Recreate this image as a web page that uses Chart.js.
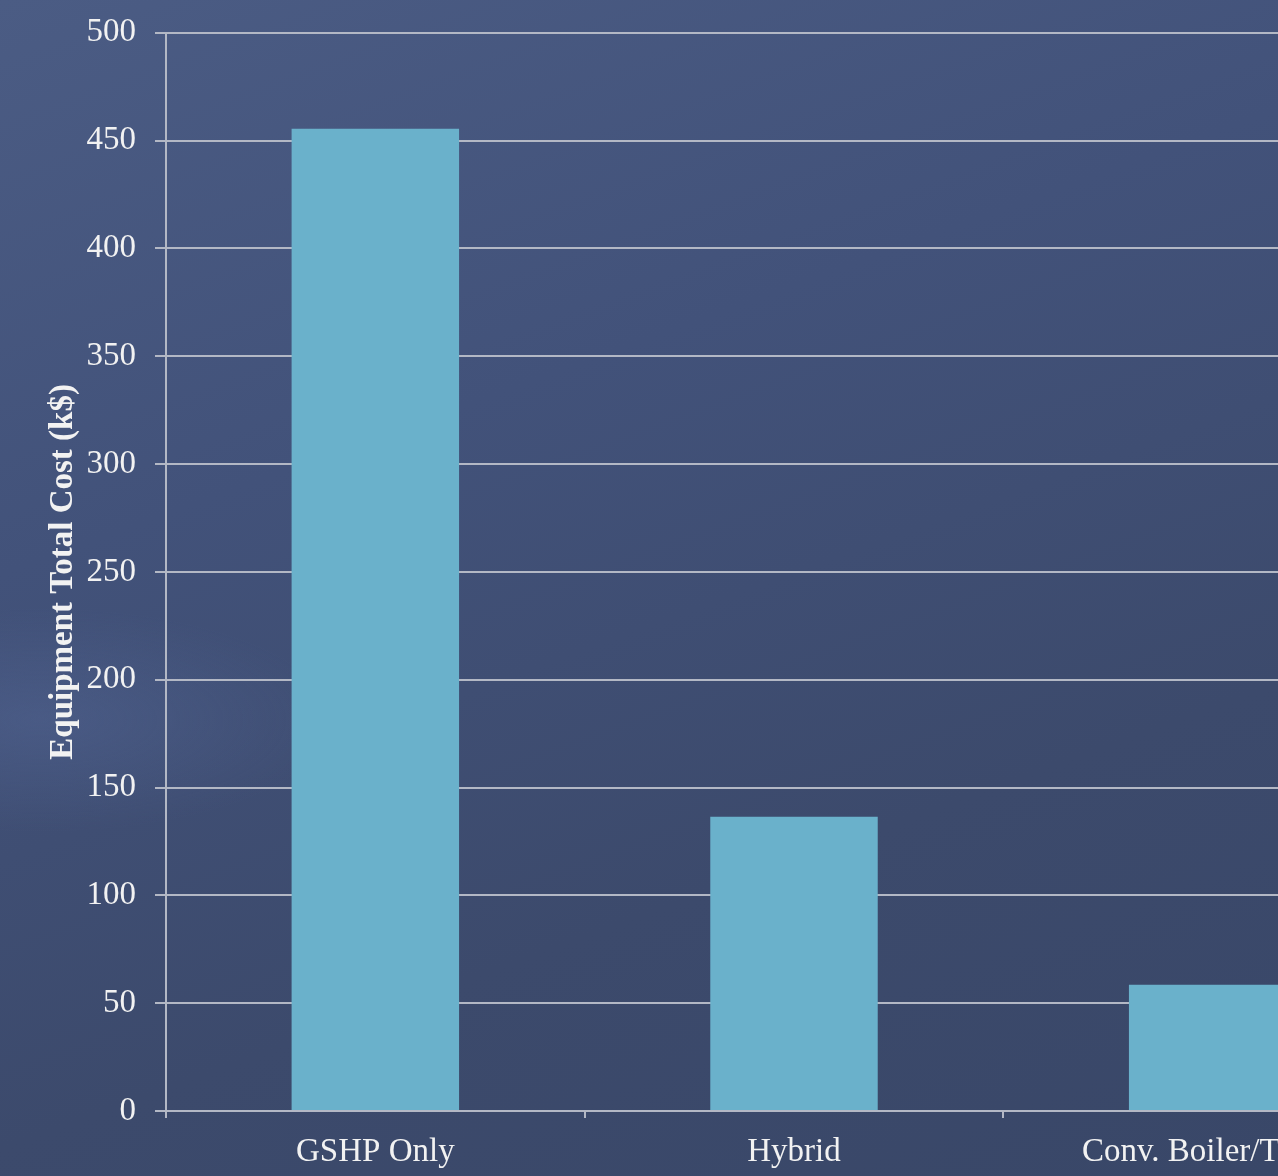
<!DOCTYPE html>
<html>
<head>
<meta charset="utf-8">
<script src="https://cdn.jsdelivr.net/npm/chart.js@4/dist/chart.umd.min.js"></script>
<style>
  html, body { margin: 0; padding: 0; overflow: hidden; }
  body {
    width: 1278px; height: 1176px;
    background:
      radial-gradient(ellipse 420px 160px at 40px 720px, rgba(90,110,160,0.35), rgba(90,110,160,0) 70%),
      linear-gradient(160deg, #4b5c84 0%, #42527a 35%, #3c4a6c 70%, #394768 100%);
  }
  #wrap { position: absolute; left: 0; top: -6px; width: 1422px; height: 1182px; }
</style>
</head>
<body>
<div id="wrap"><canvas id="myChart" width="1422" height="1182"></canvas></div>
<script>
var categories = ['GSHP Only', 'Hybrid', 'Conv. Boiler/Tower'];
var costValues = [455.5, 136.5, 58.5];
var yTicks = [0, 50, 100, 150, 200, 250, 300, 350, 400, 450, 500];

var gridColor = '#b3b8c5';
var textColor = '#f2f2f2';
var font = 'Liberation Serif';

const data = {
    labels: categories,
    datasets: [{
        label: 'Equipment Total Cost (k$)',
        backgroundColor: '#6ab1cb',
        borderWidth: 0,
        data: costValues,
        barPercentage: 0.4,
        categoryPercentage: 1.0
    }]
};

const config = {
    type: 'bar',
    data: data,
    options: {
        responsive: false,
        animation: false,
        layout: { padding: { left: 0, right: 0, top: 26, bottom: 0 } },
        plugins: {
            legend: { display: false },
            tooltip: { enabled: false }
        },
        scales: {
            x: {
                afterFit: function (scale) { scale.height = 65; },
                grid: {
                    offset: true,
                    drawOnChartArea: false,
                    drawTicks: true,
                    tickLength: 7,
                    color: gridColor,
                    lineWidth: 2
                },
                border: { display: false },
                ticks: {
                    color: textColor,
                    font: { family: font, size: 33 },
                    padding: 15,
                    maxRotation: 0,
                    autoSkip: false
                }
            },
            y: {
                min: 0,
                max: 500,
                afterFit: function (scale) { scale.width = 166; },
                afterBuildTicks: function (scale) {
                    scale.ticks = yTicks.map(function (v) { return { value: v }; });
                },
                grid: {
                    color: gridColor,
                    lineWidth: 2,
                    tickLength: 11
                },
                border: { display: true, color: gridColor, width: 2 },
                ticks: {
                    color: textColor,
                    font: { family: font, size: 33 },
                    padding: 19
                },
                title: {
                    display: true,
                    text: 'Equipment Total Cost (k$)',
                    color: textColor,
                    font: { family: font, size: 33, weight: 'bold' },
                    padding: { top: 44, bottom: 0 }
                }
            }
        }
    }
};

const myChart = new Chart(
    document.getElementById('myChart'),
    config
);
</script>
</body>
</html>
